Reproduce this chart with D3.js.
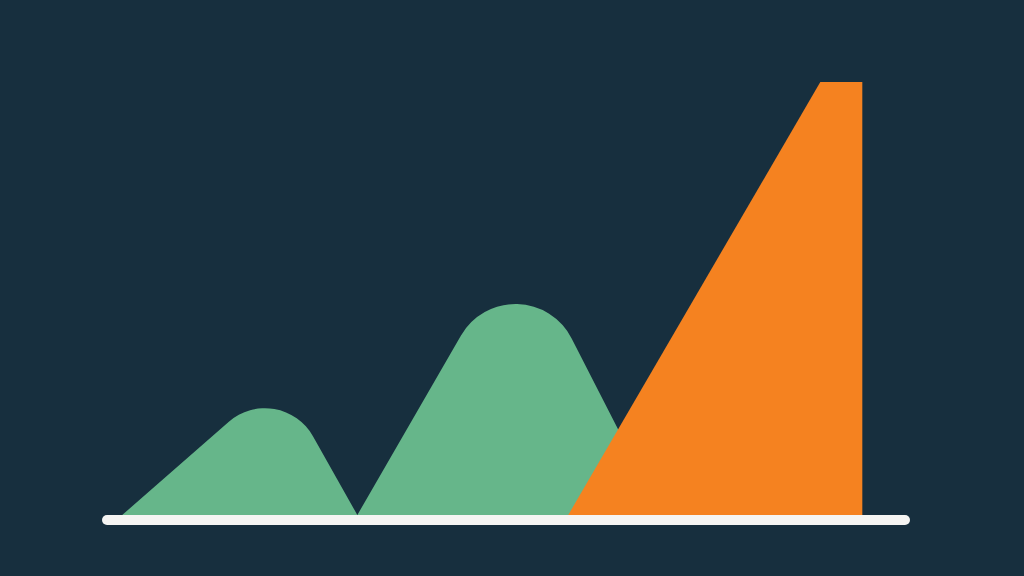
<!DOCTYPE html>
<html>
<head>
<meta charset="utf-8">
<script src="https://cdn.jsdelivr.net/npm/d3@7"></script>
<style>
  html, body { margin: 0; padding: 0; background: #172f3e; }
  svg { display: block; }
</style>
</head>
<body>
<svg width="1024" height="576"></svg>
<script>
// green humps: baseline start, sharp apex, baseline end (x in 0..100, value in 0..100)
const humpStart = [2.5, 31.6];
const humpApexX = [22.0, 51.6];
const humpApexValue = [31.8, 64.6];
const humpEnd = [31.6, 69.3];

// orange ramp: foot, top-left corner, right edge
const rampX = [57.7, 88.9, 94.1];
const rampValue = [0, 100, 100, 0];

const width = 1024, height = 576;
const cornerRadius = [55, 63]; // px, rounding of hump tops
const baseStroke = 10;

const x = d3.scaleLinear().domain([0, 100]).range([102, 910]);
const y = d3.scaleLinear().domain([0, 100]).range([515, 82]);

const svg = d3.select("svg");

svg.append("rect")
    .attr("width", width).attr("height", height)
    .attr("fill", "#172f3e");

// Humps with rounded tops
svg.append("g").selectAll("path")
    .data(humpStart.map((s, i) => ({ s, ax: humpApexX[i], av: humpApexValue[i], e: humpEnd[i], r: cornerRadius[i] })))
    .join("path")
    .attr("fill", "#66b68a")
    .attr("d", d => {
        const p = d3.path();
        p.moveTo(x(d.s), y(0));
        p.arcTo(x(d.ax), y(d.av), x(d.e), y(0), d.r);
        p.lineTo(x(d.e), y(0));
        p.closePath();
        return p.toString();
    });

// Orange ramp
const rampPts = [
    [rampX[0], rampValue[0]],
    [rampX[1], rampValue[1]],
    [rampX[2], rampValue[2]],
    [rampX[2], rampValue[3]]
];
svg.append("path")
    .datum(rampPts)
    .attr("fill", "#f58220")
    .attr("d", d3.line().x(d => x(d[0])).y(d => y(d[1])).curve(d3.curveLinearClosed));

// Baseline (round caps kept inside the axis range)
svg.append("line")
    .attr("x1", x(0) + baseStroke / 2).attr("x2", x(100) - baseStroke / 2)
    .attr("y1", y(0) + baseStroke / 2).attr("y2", y(0) + baseStroke / 2)
    .attr("stroke", "#f5f5f3")
    .attr("stroke-width", baseStroke)
    .attr("stroke-linecap", "round");
</script>
</body>
</html>
